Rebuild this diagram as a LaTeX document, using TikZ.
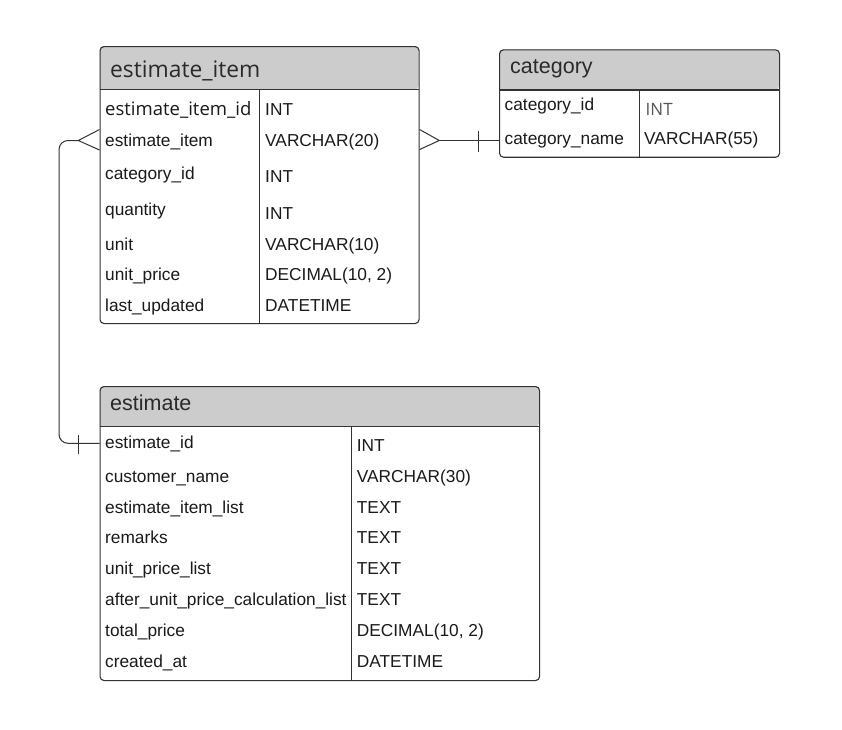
\documentclass[tikz,border=0pt]{standalone}
\usepackage{fontspec}
\setmainfont{Liberation Sans}
\newfontfamily\osans{Open Sans}
\definecolor{hdr}{HTML}{CCCCCC}
\definecolor{bord}{HTML}{333333}
\definecolor{txt}{HTML}{1A1A1A}
\definecolor{htxt}{HTML}{2A2A2A}
\definecolor{gtxt}{HTML}{555555}
\tikzset{
  tbl/.style={draw=bord, line width=1.1pt, rounded corners=4pt, anchor=north west, inner sep=0pt},
  hdrfill/.style={fill=hdr},
  rule/.style={draw=bord, line width=1.1pt},
  fld/.style={anchor=base west, inner sep=0pt, text=txt, font=\fontsize{17.3}{20}\selectfont},
  ttl/.style={anchor=base west, inner sep=0pt, text=htxt, font=\fontsize{21.5}{24}\selectfont},
  conn/.style={draw=bord, line width=1pt},
}
\begin{document}
\begin{tikzpicture}[x=1pt,y=-1pt]
\useasboundingbox (0,0) rectangle (842,729);
\fill[white] (0,0) rectangle (842,729);

% ---------- estimate_item ----------
\fill[hdrfill, rounded corners=4pt] (99.5,89.5) -- (99.5,46) -- (418.5,46) -- (418.5,89.5) [sharp corners] -- cycle;
\node[tbl, minimum width=319pt, minimum height=277pt] (ei) at (99.5,46) {};
\draw[rule] (99.5,89.5) -- (418.5,89.5);
\draw[rule] (259.5,89.5) -- (259.5,323);
\node[ttl, font=\osans\fontsize{22.8}{24}\selectfont] (eiT) at (110,77) {estimate\_item};
\node[fld, font=\osans\fontsize{18.5}{20}\selectfont] (ei1) at (105,115) {estimate\_item\_id};
\node[fld] (ei1t) at (265,115) {INT};
\node[fld] (ei2) at (105,146) {estimate\_item};
\node[fld] (ei2t) at (265,146) {VARCHAR(20)};
\node[fld] (ei3) at (105,179.3) {category\_id};
\node[fld] (ei3t) at (265,182.5) {INT};
\node[fld] (ei4) at (105,215.7) {quantity};
\node[fld] (ei4t) at (265,219) {INT};
\node[fld] (ei5) at (105,250) {unit};
\node[fld] (ei5t) at (265,250) {VARCHAR(10)};
\node[fld] (ei6) at (105,280.5) {unit\_price};
\node[fld] (ei6t) at (265,280.5) {DECIMAL(10, 2)};
\node[fld] (ei7) at (105,311.5) {last\_updated};
\node[fld] (ei7t) at (265,311.5) {DATETIME};

% ---------- category ----------
\fill[hdrfill, rounded corners=4pt] (499,90) -- (499,49.3) -- (779,49.3) -- (779,90) [sharp corners] -- cycle;
\node[tbl, minimum width=280pt, minimum height=107.4pt] (cat) at (499,49.3) {};
\draw[rule] (499,90) -- (779,90);
\draw[rule] (639.3,90) -- (639.3,156.7);
\node[ttl] (catT) at (510,73.5) {category};
\node[fld] (c1) at (504.5,110.5) {category\_id};
\node[fld, text=gtxt, font=\osans\fontsize{17}{20}\selectfont] (c1t) at (645.5,115) {INT};
\node[fld] (c2) at (504.5,144.5) {category\_name};
\node[fld] (c2t) at (644,144.5) {VARCHAR(55)};

% ---------- estimate ----------
\fill[hdrfill, rounded corners=4pt] (99.5,426.7) -- (99.5,386) -- (539,386) -- (539,426.7) [sharp corners] -- cycle;
\node[tbl, minimum width=439.5pt, minimum height=294pt] (est) at (99.5,386) {};
\draw[rule] (99.5,426.7) -- (539,426.7);
\draw[rule] (351.7,426.7) -- (351.7,680);
\node[ttl] (estT) at (110,410) {estimate};
\node[fld] (e1) at (105,448.3) {estimate\_id};
\node[fld] (e1t) at (356.7,451.7) {INT};
\node[fld] (e2) at (105,482) {customer\_name};
\node[fld] (e2t) at (356.7,482) {VARCHAR(30)};
\node[fld] (e3) at (105,513) {estimate\_item\_list};
\node[fld] (e3t) at (356.7,513) {TEXT};
\node[fld] (e4) at (105,543.5) {remarks};
\node[fld] (e4t) at (356.7,543.5) {TEXT};
\node[fld] (e5) at (105,574.5) {unit\_price\_list};
\node[fld] (e5t) at (356.7,574.5) {TEXT};
\node[fld] (e6) at (105,605.7) {after\_unit\_price\_calculation\_list};
\node[fld] (e6t) at (356.7,605.7) {TEXT};
\node[fld] (e7) at (105,636.7) {total\_price};
\node[fld] (e7t) at (356.7,636.7) {DECIMAL(10, 2)};
\node[fld] (e8) at (105,667.3) {created\_at};
\node[fld] (e8t) at (356.7,667.3) {DATETIME};

% ---------- connector: category -> estimate_item ----------
\coordinate (catIn) at (cat.west |- 0,140.5);
\coordinate (eiR) at (ei.east |- 0,140.5);
\coordinate (apexR) at (439.3,140.5);
\draw[conn] (catIn) -- (apexR);
\draw[conn] ([yshift=-9pt]eiR) -- (apexR) -- ([yshift=11pt]eiR);
\draw[conn] (478.3,130.7) -- (478.3,151.7);

% ---------- connector: estimate -> estimate_item ----------
\coordinate (eiL) at (ei.west |- 0,140.5);
\coordinate (apexL) at (78.3,140.5);
\coordinate (estIn) at (est.west |- 0,443.3);
\draw[conn] ([yshift=-9.5pt]eiL) -- (apexL) -- ([yshift=11pt]eiL);
\draw[conn, rounded corners=9pt] (apexL) -- (59,140.5) -- (59,443.3) -- (estIn);
\draw[conn] (78.3,435) -- (78.3,454);
\end{tikzpicture}
\end{document}
